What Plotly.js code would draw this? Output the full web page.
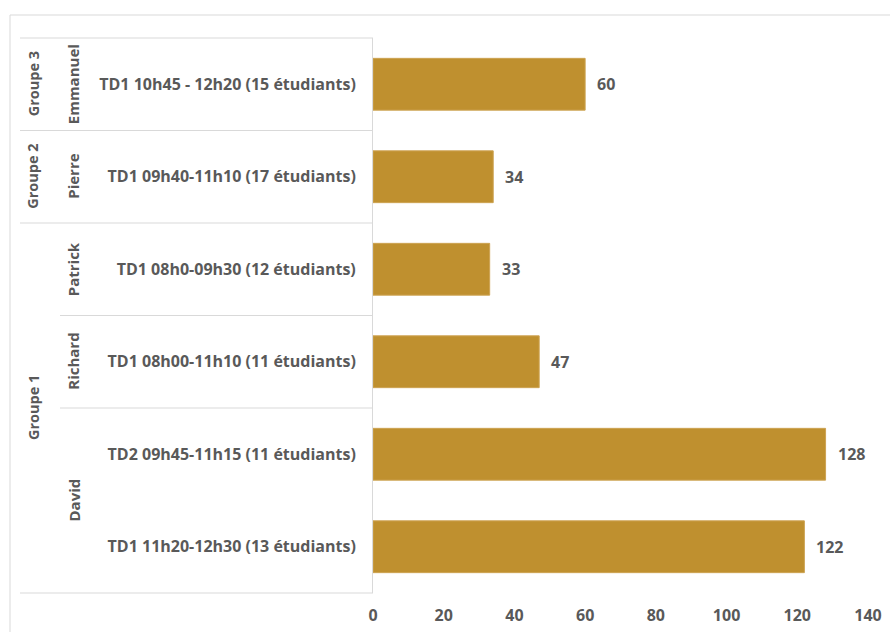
<!DOCTYPE html>
<html>
<head>
<meta charset="utf-8">
<script src="https://cdn.plot.ly/plotly-3.0.1.min.js"></script>
<style>html,body{margin:0;padding:0;background:#fff;}#chart{width:890px;height:632px;}</style>
</head>
<body>
<div id="chart"></div>
<script>
// Data (bottom to top)
const groups   = ['Groupe 1', 'Groupe 1', 'Groupe 1', 'Groupe 1', 'Groupe 2', 'Groupe 3'];
const teachers = ['David', 'David', 'Richard', 'Patrick', 'Pierre', 'Emmanuel'];
const sessions = [
  'TD1 11h20-12h30 (13 étudiants)',
  'TD2 09h45-11h15 (11 étudiants)',
  'TD1 08h00-11h10 (11 étudiants)',
  'TD1 08h0-09h30 (12 étudiants)',
  'TD1 09h40-11h10 (17 étudiants)',
  'TD1 10h45 - 12h20 (15 étudiants)'
];
const values = [122, 128, 47, 33, 34, 60];
const xTicks = [0, 20, 40, 60, 80, 100, 120, 140];

// Layout geometry (pixels)
const W = 890, H = 632;
const M = {l: 373, r: 22, t: 38, b: 39};
const plotW = W - M.l - M.r, plotH = H - M.t - M.b;
const px2x = p => (p - M.l) / plotW;           // pixel x -> paper x
const py2y = p => (H - M.b - p) / plotH;       // pixel y -> paper y
const n = values.length;
const idx = values.map((_, i) => i);
const gray = '#595959', lineCol = '#d9d9d9';
const FONT = 'Open Sans, Liberation Sans, sans-serif';

const xGroupCol = px2x(20), xNameCol = px2x(60), xAxisP = 0;

const shapes = [];
// outer chart border (left & top)
shapes.push({type: 'line', xref: 'paper', yref: 'paper', x0: px2x(10), x1: px2x(10), y0: py2y(15), y1: py2y(H + 5), line: {color: lineCol, width: 1}});
shapes.push({type: 'line', xref: 'paper', yref: 'paper', x0: px2x(10), x1: px2x(W + 5), y0: py2y(15), y1: py2y(15), line: {color: lineCol, width: 1}});
// table boundaries
for (let k = 0; k <= n; k++) {
  let x0 = null;
  if (k === 0 || k === n || groups[k] !== groups[k - 1]) x0 = xGroupCol;
  else if (teachers[k] !== teachers[k - 1]) x0 = xNameCol;
  if (x0 === null) continue;
  shapes.push({type: 'line', xref: 'paper', yref: 'paper', x0: x0, x1: xAxisP, y0: k / n, y1: k / n, line: {color: lineCol, width: 1}});
}

const annotations = [];
function spans(arr) {
  const out = [];
  let s = 0;
  for (let i = 1; i <= arr.length; i++) {
    if (i === arr.length || arr[i] !== arr[s] || (arr === teachers && groups[i] !== groups[s])) {
      out.push({label: arr[s], a: s, b: i});
      s = i;
    }
  }
  return out;
}
spans(groups).forEach(sp => annotations.push({
  xref: 'paper', yref: 'paper', x: px2x(33), y: (sp.a + sp.b) / 2 / n,
  text: sp.label, textangle: -90, showarrow: false, xanchor: 'center', yanchor: 'middle',
  font: {family: FONT, size: 14.5, color: gray, weight: 'bold'}
}));
spans(teachers).forEach(sp => annotations.push({
  xref: 'paper', yref: 'paper', x: px2x(73), y: (sp.a + sp.b) / 2 / n,
  text: sp.label, textangle: -90, showarrow: false, xanchor: 'center', yanchor: 'middle',
  font: {family: FONT, size: 15, color: gray, weight: 'bold'}
}));
// value labels
values.forEach((v, i) => annotations.push({
  xref: 'x', yref: 'y', x: v, y: i, text: String(v), showarrow: false,
  xanchor: 'left', yanchor: 'middle', xshift: 10,
  font: {family: FONT, size: 16, color: gray, weight: 'bold'}
}));

const trace = {
  type: 'bar', orientation: 'h', x: values, y: idx,
  marker: {color: '#BF902F', line: {color: '#CDA352', width: 1}},
  hoverinfo: 'x'
};

const layout = {
  width: W, height: H, margin: M,
  paper_bgcolor: '#fff', plot_bgcolor: '#fff',
  showlegend: false, bargap: 0.44,
  font: {family: FONT, color: gray},
  xaxis: {
    range: [0, 140], tickvals: xTicks, ticktext: xTicks.map(String),
    showgrid: false, zeroline: false, showline: false, ticks: '',
    ticklabelstandoff: 11,
    tickfont: {family: FONT, size: 16, color: gray, weight: 'bold'}
  },
  yaxis: {
    range: [-0.5, n - 0.5], tickvals: idx, ticktext: sessions,
    showgrid: false, zeroline: false, showline: true, linecolor: lineCol, linewidth: 1,
    ticks: '', ticklabelstandoff: 13,
    tickfont: {family: FONT, size: 16, color: gray, weight: 'bold'}
  },
  shapes: shapes, annotations: annotations
};

Plotly.newPlot('chart', [trace], layout, {displayModeBar: false, staticPlot: true});
</script>
</body>
</html>
